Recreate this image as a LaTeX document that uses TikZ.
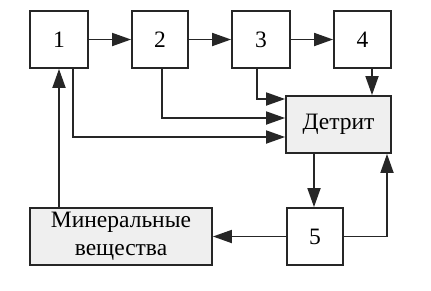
\documentclass[tikz,border=0pt]{standalone}
\usepackage{fontspec}
\setmainfont{Liberation Serif}
\usetikzlibrary{arrows.meta}
\definecolor{boxfill}{HTML}{EFEFEF}
\begin{document}
\begin{tikzpicture}[x=1pt,y=-1pt,
  box/.style={draw=black!85, line width=1.8pt, fill=white, minimum height=57pt, inner sep=0pt, font=\fontsize{23.5}{28}\selectfont},
  gbox/.style={box, fill=boxfill},
  arr/.style={draw=black!85, line width=1.8pt, -{Triangle[length=19pt,width=13pt]}}]
\useasboundingbox (0,0) rectangle (431,290);
\node[box, minimum width=58pt] (b1) at (59,39.5) {1};
\node[box, minimum width=56pt] (b2) at (160,39.5) {2};
\node[box, minimum width=58pt] (b3) at (261,39.5) {3};
\node[box, minimum width=57pt] (b4) at (362.5,39.5) {4};
\node[gbox, minimum width=105pt] (det) at (338.5,124.5) {Детрит};
\node[gbox, minimum width=182pt, align=center] (min) at (121,236.5) {Минеральные\\вещества};
\node[box, minimum width=56pt] (b5) at (315,236.5) {5};
\draw[arr] (b1) -- (b2);
\draw[arr] (b2) -- (b3);
\draw[arr] (b3) -- (b4);
\draw[arr] (b4.south -| 372,0) -- (det.north -| 372,0);
\draw[arr] (b3.south -| 257,0) |- (det.west |- 0,99);
\draw[arr] (b2.south -| 162,0) |- (det.west |- 0,118);
\draw[arr] (b1.south -| 73,0) |- (det.west |- 0,137);
\draw[arr] (det.south -| 314,0) -- (b5.north -| 314,0);
\draw[arr] (b5.east) -| (det.south -| 387,0);
\draw[arr] (b5) -- (min);
\draw[arr] (min.north -| 59,0) -- (b1.south -| 59,0);
\end{tikzpicture}
\end{document}
